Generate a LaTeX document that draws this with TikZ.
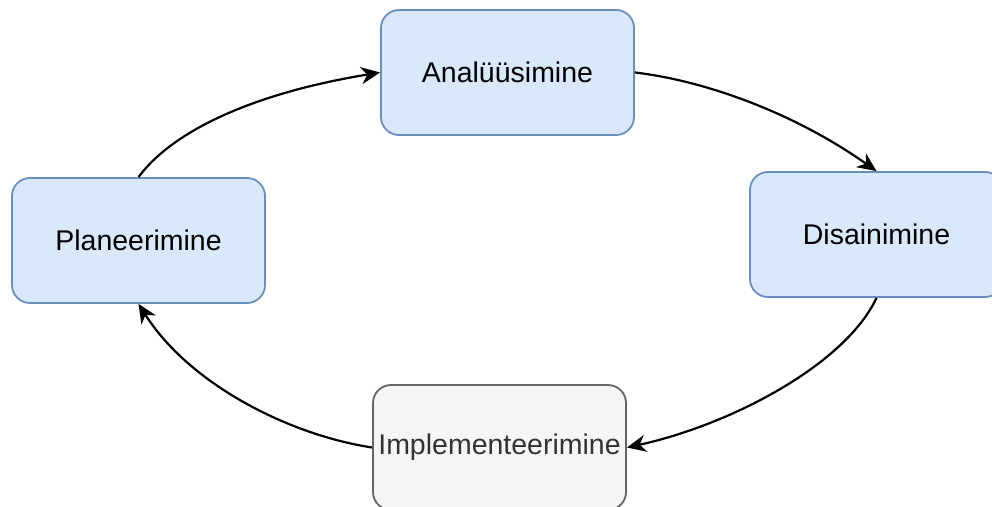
\documentclass[tikz,border=0pt]{standalone}
\usepackage{fontspec}
\setmainfont{Liberation Sans}
\usetikzlibrary{arrows.meta}
\definecolor{bluefill}{HTML}{DAE8FC}
\definecolor{bluedraw}{HTML}{6C8EBF}
\definecolor{grayfill}{HTML}{F5F5F5}
\definecolor{graydraw}{HTML}{666666}
\definecolor{graytext}{HTML}{333333}
\begin{document}
\begin{tikzpicture}[x=1pt,y=-1pt,
  bluebox/.style={draw=bluedraw,fill=bluefill,line width=1.8pt,rounded corners=18pt,
    minimum width=253pt,minimum height=125pt,inner sep=0pt,
    font=\fontsize{28.5}{34}\selectfont,text=black},
  graybox/.style={bluebox,draw=graydraw,fill=grayfill,text=graytext},
  flow/.style={line width=2.2pt,-{Stealth[length=19pt,width=17pt,inset=6pt]}}]
\useasboundingbox (0,0) rectangle (992,506);
\clip (0,0) rectangle (992,506);
\node[bluebox] (ana) at (507.5,72.5) {Analüüsimine};
\node[bluebox] (dis) at (876.5,234.5) {Disainimine};
\node[graybox] (imp) at (499.5,447.5) {Implementeerimine};
\node[bluebox] (pla) at (138.5,240.5) {Planeerimine};
\draw[flow] (pla.north) .. controls (175,128) and (260,92) .. (ana.west);
\draw[flow] (ana.east) .. controls (700,80) and (790,110) .. (dis.north);
\draw[flow] (dis.south) .. controls (845,365) and (730,425) .. (imp.east);
\draw[flow] (imp.west) .. controls (290,435) and (190,385) .. (pla.south);
\end{tikzpicture}
\end{document}
